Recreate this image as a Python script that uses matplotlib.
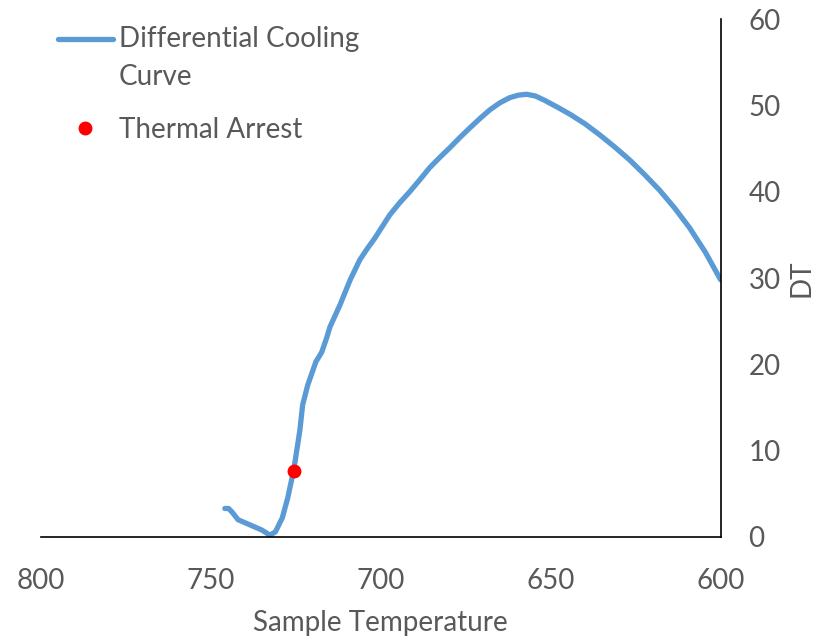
import matplotlib
matplotlib.use('Agg')
import matplotlib.pyplot as plt
from matplotlib.legend_handler import HandlerLine2D

# sample temperature vs differential temperature
sample_temp = [745.9, 744.8, 743.8, 742.0, 738.5, 735.0, 732.6, 731.0, 729.0, 727.4,
               725.6, 723.8, 723.0, 721.5, 719.1, 717.4, 715.9, 715.0, 712.0, 709.0,
               706.2, 704.0, 701.8, 697.4, 694.5, 691.5, 688.5, 685.6, 682.6, 679.7,
               676.7, 673.8, 670.8, 667.9, 665.0, 662.1, 659.5, 657.1, 654.5, 651.8,
               648.0, 644.4, 640.0, 635.6, 631.2, 626.8, 622.4, 618.0, 613.5, 609.1,
               604.5, 600.0]
dt = [3.3, 3.3, 2.9, 2.0, 1.4, 0.8, 0.2, 0.6, 2.2, 4.5,
      7.8, 12.4, 15.3, 17.6, 20.3, 21.4, 23.1, 24.3, 26.9, 29.8,
      32.1, 33.4, 34.6, 37.3, 38.7, 40.0, 41.4, 42.8, 44.0, 45.1,
      46.3, 47.4, 48.5, 49.5, 50.3, 50.9, 51.2, 51.3, 51.1, 50.6,
      49.8, 49.0, 47.9, 46.6, 45.2, 43.7, 42.0, 40.2, 38.1, 35.8,
      33.0, 29.8]

arrest_temp = [725.6]
arrest_dt = [7.7]

x_ticks = [800, 750, 700, 650, 600]
y_ticks = [0, 10, 20, 30, 40, 50, 60]

grey = '#595959'
plt.rcParams['font.family'] = ['Lato', 'DejaVu Sans']


def raise_handle(legend_handle, orig_handle):
    # copy the line style, then put it next to the first row of the two-line label
    legend_handle.update_from(orig_handle)
    legend_handle.set_ydata(legend_handle.get_ydata() + 14)


fig = plt.figure(figsize=(8.36, 6.4), dpi=100)
ax = fig.add_axes([0.049, 0.161, 0.813, 0.809])

curve, = ax.plot(sample_temp, dt, color='#5B9BD5', linewidth=3.8, solid_capstyle='round',
                 solid_joinstyle='round', label='Differential Cooling\nCurve', zorder=2)
ax.plot(arrest_temp, arrest_dt, 'o', color='#FF0000', markersize=9,
        label='Thermal Arrest', zorder=3)

ax.set_xlim(800, 600)
ax.set_ylim(0, 60)
ax.set_xticks(x_ticks)
ax.set_yticks(y_ticks)

for s in ['top', 'left']:
    ax.spines[s].set_visible(False)
ax.spines['bottom'].set_color('black')
ax.spines['right'].set_color('black')
ax.spines['bottom'].set_linewidth(1.2)
ax.spines['right'].set_linewidth(1.2)

ax.yaxis.tick_right()
ax.yaxis.set_label_position('right')
ax.tick_params(axis='both', length=0, labelsize=20, colors=grey)
ax.tick_params(axis='x', pad=22)
ax.tick_params(axis='y', pad=20)

ax.set_xlabel('Sample Temperature', fontsize=20, color=grey, labelpad=12)
ax.set_ylabel('DT', fontsize=20, color=grey, labelpad=6)

leg = ax.legend(loc='upper left', bbox_to_anchor=(0.0, 1.02), frameon=False,
                fontsize=20, handlelength=2.0, handletextpad=0.2, labelspacing=0.95,
                borderaxespad=0.2,
                handler_map={curve: HandlerLine2D(update_func=raise_handle)})
for t in leg.get_texts():
    t.set_color(grey)
    t.set_linespacing(1.6)

fig.savefig('out.png', dpi=100)
